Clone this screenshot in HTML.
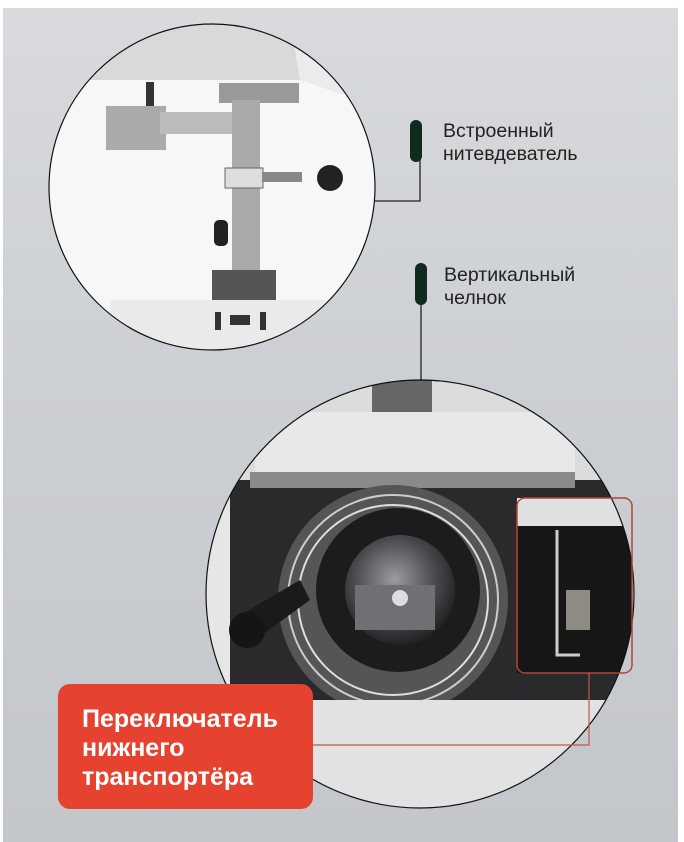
<!DOCTYPE html>
<html><head><meta charset="utf-8"><style>
html,body{margin:0;padding:0;width:684px;height:842px;overflow:hidden;background:#fff}
svg{display:block}
text{font-family:"Liberation Sans","DejaVu Sans",sans-serif}
</style></head><body>
<svg width="684" height="842" viewBox="0 0 684 842" xmlns="http://www.w3.org/2000/svg">
<defs>
<linearGradient id="bg" x1="0" y1="0" x2="0" y2="1">
<stop offset="0" stop-color="#d8dadd"/><stop offset="0.5" stop-color="#cbced2"/><stop offset="1" stop-color="#c3c6ca"/>
</linearGradient>
<clipPath id="c1"><circle cx="212" cy="187" r="163"/></clipPath>
<clipPath id="c2"><circle cx="420" cy="594" r="214"/></clipPath>
<radialGradient id="bob" cx="0.45" cy="0.4" r="0.6"><stop offset="0" stop-color="#9a9ca0"/><stop offset="0.6" stop-color="#4a4c50"/><stop offset="1" stop-color="#222"/></radialGradient>
</defs>
<rect x="3" y="8" width="675" height="834" fill="url(#bg)"/>

<!-- top circle -->
<g clip-path="url(#c1)">
<rect x="40" y="20" width="350" height="340" fill="#f7f7f7"/>
<polygon points="40,20 300,20 300,80 40,80" fill="#d9d9d9"/>
<polygon points="290,20 390,20 390,110 300,80" fill="#ebebeb"/>
<rect x="146" y="82" width="8" height="50" fill="#333"/>
<rect x="106" y="106" width="60" height="44" fill="#aaa"/>
<rect x="160" y="112" width="80" height="22" fill="#bbb"/>
<rect x="219" y="83" width="80" height="20" fill="#999"/>
<rect x="232" y="100" width="28" height="200" fill="#aaa"/>
<rect x="225" y="168" width="38" height="20" fill="#ddd" stroke="#666"/>
<rect x="262" y="172" width="40" height="10" fill="#888"/>
<circle cx="330" cy="178" r="13" fill="#222"/>
<rect x="214" y="220" width="14" height="26" rx="5" fill="#222"/>
<rect x="212" y="270" width="64" height="36" fill="#555"/>
<rect x="110" y="300" width="220" height="60" fill="#eaeaea"/>
<rect x="230" y="315" width="20" height="10" fill="#333"/>
<rect x="215" y="312" width="6" height="18" fill="#333"/><rect x="260" y="312" width="6" height="18" fill="#333"/>
</g>
<circle cx="212" cy="187" r="163" fill="none" stroke="#111" stroke-width="1.2"/>

<!-- connectors -->
<polyline points="415,160 420,160 420,201 375,201" fill="none" stroke="#222" stroke-width="1.3"/>
<rect x="410" y="120" width="12" height="42" rx="6" fill="#0f2a1e"/>
<line x1="421" y1="300" x2="421" y2="381" stroke="#222" stroke-width="1.3"/>
<rect x="415" y="263" width="12" height="42" rx="6" fill="#0f2a1e"/>
<text x="443" y="137" font-size="19.5" fill="#222">Встроенный</text>
<text x="443" y="160" font-size="19.5" fill="#222">нитевдеватель</text>
<text x="444" y="281" font-size="19.5" fill="#222">Вертикальный</text>
<text x="444" y="304" font-size="19.5" fill="#222">челнок</text>

<!-- bottom circle -->
<g clip-path="url(#c2)">
<rect x="200" y="375" width="440" height="440" fill="#dcdcdc"/>
<rect x="200" y="480" width="420" height="230" fill="#2a2a2c"/>
<rect x="200" y="480" width="30" height="240" fill="#e6e6e6"/>
<rect x="372" y="380" width="60" height="35" fill="#666"/>
<rect x="255" y="412" width="320" height="68" fill="#e8e8e8"/>
<rect x="250" y="472" width="325" height="16" fill="#8a8a8a"/>
<circle cx="393" cy="600" r="115" fill="#555"/>
<circle cx="393" cy="600" r="105" fill="none" stroke="#ccc" stroke-width="2"/>
<circle cx="393" cy="600" r="95" fill="none" stroke="#ddd" stroke-width="2"/>
<circle cx="398" cy="590" r="82" fill="#1c1c1e"/>
<circle cx="400" cy="590" r="55" fill="url(#bob)"/>
<rect x="355" y="585" width="80" height="45" fill="#6e7074"/>
<circle cx="400" cy="598" r="8" fill="#ddd"/>
<polygon points="232,620 300,580 310,600 255,640" fill="#1a1a1a"/>
<circle cx="247" cy="630" r="18" fill="#151515"/>
<rect x="230" y="700" width="400" height="120" fill="#e2e2e2"/>
<rect x="517" y="498" width="115" height="175" fill="#161616"/>
<rect x="517" y="498" width="115" height="28" fill="#e0e0e0"/>
<rect x="566" y="590" width="24" height="40" fill="#8e8a84"/>
<path d="M557,530 V655 H580" fill="none" stroke="#ccc" stroke-width="3"/>
</g>
<circle cx="420" cy="594" r="214" fill="none" stroke="#111" stroke-width="1.2"/>
<rect x="517" y="498" width="115" height="175" rx="8" fill="none" stroke="#b2443a" stroke-width="1.5"/>
<polyline points="313,745 589,745 589,673" fill="none" stroke="#c0574c" stroke-width="1.2"/>

<!-- red box -->
<rect x="58" y="684" width="255" height="125" rx="12" fill="#e5432f"/>
<text font-size="25" font-weight="bold" fill="#fff"><tspan x="82" y="727">Переключатель</tspan><tspan x="82" y="756">нижнего</tspan><tspan x="82" y="785">транспортёра</tspan></text>
</svg>
</body></html>
